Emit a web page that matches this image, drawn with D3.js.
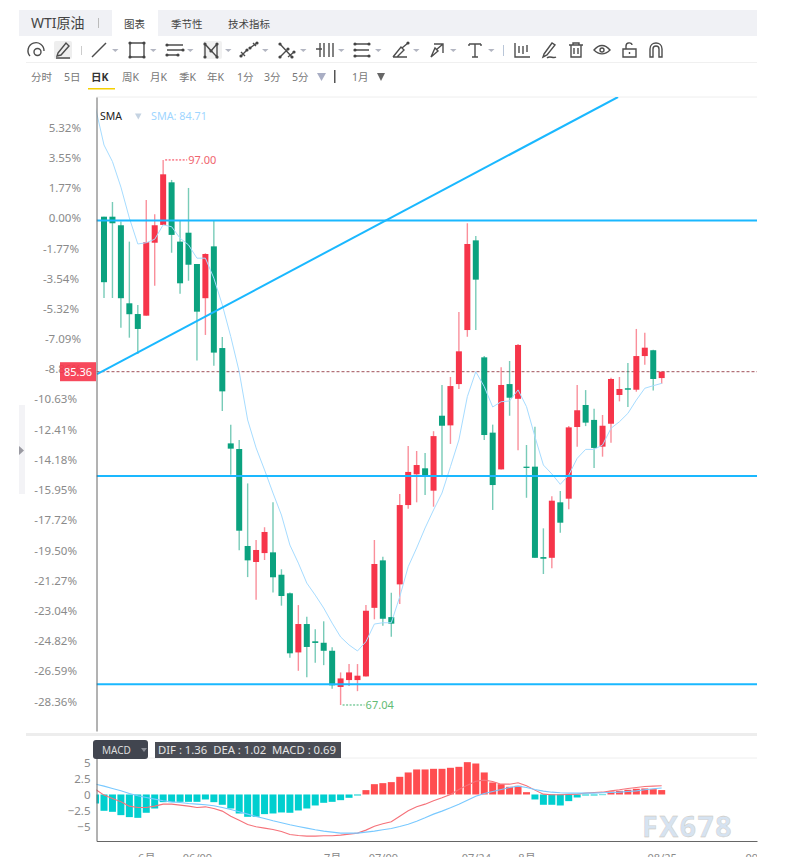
<!DOCTYPE html>
<html>
<head>
<meta charset="utf-8">
<script src="https://cdn.jsdelivr.net/npm/d3@7/dist/d3.min.js"></script>
<style>
  html, body { margin: 0; padding: 0; background: #fff; }
  svg { display: block; }
  text { font-family: "Noto Sans", "Noto Sans CJK SC", sans-serif; }
</style>
</head>
<body>
<svg id="chart" width="788" height="867"></svg>
<script>
// daily candles
const opens = [93.88,93.88,93.41,89.12,88.53,88.44,92.45,93.43,95.77,92.51,93.00,91.28,89.40,92.25,86.66,81.42,81.11,75.78,74.90,75.39,75.43,74.20,73.18,69.93,71.49,70.54,70.46,70.02,68.03,68.41,68.41,68.61,72.38,74.99,71.87,73.67,78.03,79.72,80.05,78.82,82.94,82.41,84.68,87.65,92.58,86.15,82.01,79.99,84.68,83.87,80.14,80.14,75.17,75.13,78.18,78.38,82.32,83.53,82.71,81.24,82.50,84.08,84.45,84.37,86.22,86.54,85.01];
const closes = [90.28,93.52,89.40,88.52,87.71,92.48,93.41,96.21,92.88,90.22,91.24,88.66,91.83,86.41,84.28,81.13,76.62,74.99,75.56,76.55,74.06,73.03,69.88,71.49,70.23,70.45,70.02,68.12,68.50,68.83,68.65,72.22,74.79,71.78,71.51,78.03,79.85,80.23,79.63,81.82,82.39,84.57,86.48,92.38,90.42,81.88,79.13,84.63,83.93,86.83,80.07,75.13,75.08,78.27,77.06,82.30,83.24,82.56,81.17,82.39,84.96,84.41,84.37,86.22,86.68,84.96,85.36];
const highs = [93.88,94.69,93.61,92.51,89.03,94.80,94.02,97.00,95.90,93.66,95.46,91.28,91.87,93.66,87.27,82.45,81.60,79.22,76.11,76.81,78.18,74.50,73.23,72.53,71.89,71.20,71.64,70.21,68.83,69.29,69.29,72.53,76.11,75.19,73.21,78.64,81.28,81.00,80.89,82.09,84.63,85.07,88.64,93.52,92.82,86.22,82.45,85.60,85.95,86.88,81.33,82.34,76.75,78.51,78.80,82.37,84.63,84.35,83.33,82.98,85.03,85.07,85.84,87.71,87.50,86.57,85.36];
const lows = [89.41,89.41,87.78,87.23,86.33,88.44,90.09,93.43,91.90,89.65,90.36,85.97,87.38,85.69,83.20,79.70,75.54,74.07,72.82,75.01,73.23,72.50,69.64,68.92,68.56,69.36,69.23,67.93,67.04,68.08,67.80,68.61,71.75,71.40,70.79,72.59,77.83,78.18,78.58,77.94,79.63,81.39,84.41,87.28,87.65,81.61,77.76,79.99,82.94,81.04,78.43,75.13,74.24,74.55,76.51,77.80,81.24,82.37,80.07,80.69,81.46,83.73,83.42,84.26,85.74,84.32,84.70];

// these start one bar before the first candle, which sits behind the axis
const smaValues = [99.86,97.82,96.91,95.51,93.81,92.38,92.45,92.64,93.43,93.33,92.70,92.33,91.60,91.60,90.50,89.03,87.29,85.36,82.71,81.17,79.96,78.69,77.48,75.83,74.84,73.74,73.08,72.37,71.54,70.78,70.34,70.01,70.52,71.49,71.56,71.56,72.99,74.64,75.67,76.77,77.76,78.69,80.14,81.61,83.99,85.36,84.54,83.42,83.71,83.75,84.36,83.44,81.79,80.23,79.74,79.17,79.68,80.60,81.09,81.09,81.33,82.25,82.61,83.07,83.80,84.45,84.59,84.72];
const macdBars = [-1.41,-2.55,-2.71,-3.23,-3.54,-3.65,-2.86,-2.19,-1.20,-1.20,-1.15,-1.15,-1.15,-0.78,-1.20,-1.61,-2.19,-2.97,-3.49,-3.49,-3.07,-2.97,-2.81,-2.86,-2.50,-2.19,-1.72,-1.30,-1.15,-0.89,-0.52,-0.16,0.68,1.61,1.77,1.93,2.76,3.44,3.91,3.91,4.01,4.01,4.17,4.32,5.05,4.84,3.44,1.88,1.61,1.20,1.35,0.36,-0.78,-1.61,-1.61,-1.72,-1.04,-0.47,-0.16,-0.16,-0.10,0.47,0.57,0.73,0.89,0.94,0.83,0.69];
const difValues = [0.78,-0.10,-0.63,-1.15,-1.82,-2.03,-2.03,-1.82,-1.51,-1.51,-1.67,-1.82,-2.03,-1.93,-2.19,-2.60,-3.39,-4.01,-4.69,-5.05,-5.26,-5.47,-5.78,-6.25,-6.41,-6.51,-6.51,-6.46,-6.46,-6.35,-6.20,-6.04,-5.57,-4.95,-4.58,-4.27,-3.39,-2.55,-1.93,-1.51,-0.99,-0.52,0,0.78,1.46,2.08,2.24,2.03,1.61,1.61,1.82,1.35,0.68,0.05,-0.05,-0.05,0,0.05,0.21,0.31,0.36,0.57,0.73,0.94,1.09,1.25,1.30,1.36];
const deaValues = [1.61,1.30,0.94,0.57,0.16,-0.21,-0.47,-0.73,-0.99,-1.15,-1.25,-1.41,-1.51,-1.61,-1.77,-2.03,-2.34,-2.71,-3.07,-3.44,-3.75,-4.11,-4.43,-4.74,-5.00,-5.26,-5.52,-5.73,-5.89,-6.04,-6.04,-6.04,-5.89,-5.73,-5.52,-5.31,-5.00,-4.64,-4.17,-3.65,-3.07,-2.60,-2.08,-1.51,-0.89,-0.26,0.16,0.47,0.78,1.09,1.30,1.09,0.78,0.52,0.36,0.26,0.21,0.21,0.21,0.21,0.26,0.31,0.36,0.47,0.57,0.73,0.89,1.02];

const pctTicks = [5.32,3.55,1.77,0,-1.77,-3.54,-5.32,-7.09,-8.86,-10.63,-12.41,-14.18,-15.95,-17.72,-19.50,-21.27,-23.04,-24.82,-26.59,-28.36];
const macdTicks = [5,2.5,0,-2.5,-5];
const dateTickIdx = [5,11,27,33,44,50,66,77.6];
const dateTickLabels = ['6月','06/09','7月','07/09','07/24','8月','08/25','09/08'];

// drawn levels and the trend line, in price / bar units
const basePrice = 93.66;
const levels = [93.67, 79.63, 68.18];
const trendBars = [-0.83, 60.83];
const trendPrices = [85.23, 100.46];
const lastPrice = 85.36;

const tabs = ['图表','季节性','技术指标'];
const periods = ['分时','5日','日K','周K','月K','季K','年K','1分','3分','5分'];

const RED = '#f6354a', GREEN = '#0ba27f', BLUE = '#1ab8ff', SMA_BLUE = '#a6dcff';
const MACD_RED = '#ff4d50', MACD_CYAN = '#00cfcf';
const LEFT = 96.5, RIGHT = 757, TOP = 97, BOTTOM = 731, MACD_TOP = 758, MACD_BOTTOM = 841;

const svg = d3.select('#chart');

const defs = svg.append('defs');
defs.append('clipPath').attr('id', 'plotClip').append('rect')
    .attr('x', LEFT).attr('y', TOP).attr('width', RIGHT - LEFT).attr('height', BOTTOM - TOP);
defs.append('clipPath').attr('id', 'macdClip').append('rect')
    .attr('x', LEFT).attr('y', MACD_TOP).attr('width', RIGHT - LEFT).attr('height', MACD_BOTTOM - MACD_TOP);

// scales
const x = d3.scaleLinear().domain([-0.888, 77.28]).range([LEFT, RIGHT]);
const y = d3.scaleLinear().domain([100.46, 65.61]).range([TOP, BOTTOM]);
const pct = d3.scaleLinear()
    .domain(y.domain().map(p => (p / basePrice - 1) * 100))
    .range([TOP, BOTTOM]);
const macdY = d3.scaleLinear().domain([5.70, -7.27]).range([MACD_TOP, MACD_BOTTOM]);

// ---- header ----
const header = svg.append('g');
header.append('rect').attr('x', 19).attr('y', 10).attr('width', 738).attr('height', 26).attr('fill', '#f0f1f5');
header.append('rect').attr('x', 112).attr('y', 10).attr('width', 46).attr('height', 26).attr('fill', '#fff');
header.append('text').attr('x', 31).attr('y', 28).attr('font-size', 14).attr('fill', '#444').text('WTI原油');
header.append('rect').attr('x', 98).attr('y', 18).attr('width', 1).attr('height', 10).attr('fill', '#bbb');

const tabX = [124, 171, 228];
header.selectAll('.tab').data(tabs).join('text')
    .attr('class', 'tab')
    .attr('x', (d, i) => tabX[i]).attr('y', 28)
    .attr('font-size', 10.5).attr('fill', '#444')
    .text(d => d);

// period row
const periodX = [31, 64, 91, 122, 150, 179, 207, 237, 264, 292];
header.selectAll('.period').data(periods).join('text')
    .attr('class', 'period')
    .attr('x', (d, i) => periodX[i]).attr('y', 81)
    .attr('font-size', 10.5)
    .attr('font-weight', d => d === '日K' ? 700 : 400)
    .attr('fill', d => d === '日K' ? '#333' : '#777')
    .text(d => d);
header.append('rect').attr('x', 88).attr('y', 88).attr('width', 27).attr('height', 1.5).attr('fill', '#f5d000');
header.append('path').attr('d', 'M317,73h9l-4.5,8z').attr('fill', '#a9aec4');
header.append('rect').attr('x', 334).attr('y', 70).attr('width', 1.5).attr('height', 13).attr('fill', '#555');
header.append('text').attr('x', 352).attr('y', 81).attr('font-size', 10.5).attr('fill', '#777').text('1月');
header.append('path').attr('d', 'M377,73h8l-4,8z').attr('fill', '#666');

header.append('line').attr('x1', 26).attr('x2', RIGHT).attr('y1', 62.5).attr('y2', 62.5).attr('stroke', '#f0f0f0');
header.append('line').attr('x1', LEFT).attr('x2', RIGHT).attr('y1', TOP).attr('y2', TOP).attr('stroke', '#eeeeee');

// ---- toolbar icons ----
const toolbar = svg.append('g').attr('fill', 'none').attr('stroke', '#4d4d4d').attr('stroke-width', 1.4);
toolbar.append('rect').attr('x', 54).attr('y', 41).attr('width', 18).attr('height', 18).attr('rx', 2).attr('fill', '#eeeeee').attr('stroke', 'none');
toolbar.append('rect').attr('x', 203).attr('y', 41).attr('width', 19).attr('height', 18).attr('rx', 2).attr('fill', '#f1f1f1').attr('stroke', 'none');

const icons = [
  [36, 'M-6,6A8,8 0 1 1 8,1M-2,2a3.5,3.5 0 1 0 7,0a3.5,3.5 0 1 0 -7,0'],
  [63, 'M-5,3L3,-7L6,-4L-2,5L-6,6ZM-7,8H7'],
  [99, 'M-7,7L7,-7'],
  [137, 'M-7,-7H7V7H-7Z'],
  [175, 'M-8,-5H8M-8,0H8M-8,5H3'],
  [211, 'M-6,7L-6,-6L6,7L6,-6M-6,-6L0,1L6,-6'],
  [249, 'M-8,6L-2,0M1,-2L8,-7M-8,2L-4,6M4,-7L7,-4'],
  [287, 'M-7,-6L5,7M-7,7L1,-1M1,7L7,2'],
  [320, 'M0,-7V7'], [324, 'M0,-7V7'], [329, 'M0,-7V7'], [333, 'M0,-7V7M-17,-1H-11'],
  [362, 'M-7,-6H7M-7,0H7M-7,6H7'],
  [400, 'M-7,7H7M-7,7L1,-3L4,0L-3,7M2,-2L8,-7'],
  [437, 'M-6,7L-2,-2L1,1ZM-3,-6H6V3M-1,0L6,-6'],
  [475, 'M-6,-6H6M0,-6V7M-3,7H3M-6,-6V-4M6,-6V-4'],
  [522, 'M-7,-7V7H8M-3,-4V3M1,-4V4M5,-5V2'],
  [549, 'M-5,4L3,-7L6,-5L-2,5L-6,7ZM-2,8C1,5 4,9 7,7'],
  [576, 'M-7,-5H7M-3,-5V-7H3V-5M-5,-5V7H5V-5M-2,-2V4M2,-2V4'],
  [602, 'M-8,0C-3,-6 3,-6 8,0C3,5 -3,5 -8,0ZM-2,0a2,2 0 1 0 4,0a2,2 0 1 0 -4,0'],
  [629, 'M-6,-1H7V7H-6ZM-3,-1V-4C-3,-8 3,-8 3,-5M0.5,2V4'],
  [656, 'M-6,7V-1C-6,-9 6,-9 6,-1V7H3V-1C3,-5 -3,-5 -3,-1V7Z']
];
toolbar.selectAll('.icon').data(icons).join('path')
    .attr('class', 'icon')
    .attr('transform', d => `translate(${d[0]},50)`)
    .attr('d', d => d[1]);

// the anchor dots on the drawing tools
const anchors = [
  [137, [[-7,-7],[7,-7],[-7,7],[7,7]]],
  [175, [[-8,-5],[8,0],[-8,5],[3,5]]],
  [211, [[-6,7],[-6,-6],[6,7],[6,-6],[0,1]]],
  [249, [[-8,6],[8,-7],[-2,0],[1,-2]]],
  [287, [[-7,-6],[5,7],[-7,7],[1,-1],[7,2]]],
  [362, [[-7,-6],[-7,0],[-7,6],[7,-6],[7,6]]],
  [400, [[8,-7]]]
];
svg.append('g').selectAll('g').data(anchors).join('g')
    .attr('transform', d => `translate(${d[0]},50)`)
    .selectAll('circle').data(d => d[1]).join('circle')
    .attr('cx', d => d[0]).attr('cy', d => d[1]).attr('r', 1.6).attr('fill', '#444');

// little carets next to the drawing tools
const caretX = [115, 153, 190, 228, 265, 303, 341, 378, 416, 453, 491];
svg.append('g').selectAll('path').data(caretX).join('path')
    .attr('d', d => `M${d - 3},49h6.5l-3.2,3z`)
    .attr('fill', '#b3b6c2');
svg.append('rect').attr('x', 81).attr('y', 46).attr('width', 1).attr('height', 9).attr('fill', '#ccc');
svg.append('rect').attr('x', 503).attr('y', 45).attr('width', 1).attr('height', 11).attr('fill', '#b9c6d8');

// left collapse handle
svg.append('rect').attr('x', 19).attr('y', 405).attr('width', 6).attr('height', 89).attr('fill', '#f3f3f6');
svg.append('path').attr('d', 'M19,446l5,4.5l-5,4.5z').attr('fill', '#9a9aa2');

// ---- main panel ----
const main = svg.append('g').attr('clip-path', 'url(#plotClip)');

const lastY = y(lastPrice);
main.append('line')
    .attr('x1', LEFT).attr('x2', RIGHT).attr('y1', lastY).attr('y2', lastY)
    .attr('stroke', '#a0525a').attr('stroke-dasharray', '3,2');

const barIdx = d3.range(opens.length);
const candleColor = i => closes[i] >= opens[i] ? RED : GREEN;

main.append('g').selectAll('line').data(barIdx).join('line')
    .attr('x1', i => x(i)).attr('x2', i => x(i))
    .attr('y1', i => y(highs[i])).attr('y2', i => y(lows[i]))
    .attr('stroke', candleColor).attr('stroke-width', 1.4).attr('opacity', 0.55);

main.append('g').selectAll('rect').data(barIdx).join('rect')
    .attr('x', i => x(i) - 3)
    .attr('width', 6)
    .attr('y', i => y(Math.max(opens[i], closes[i])))
    .attr('height', i => Math.max(1.2, Math.abs(y(opens[i]) - y(closes[i]))))
    .attr('fill', candleColor);

const smaLine = d3.line().x((d, i) => x(i - 1)).y(d => y(d));
main.append('path').datum(smaValues)
    .attr('d', smaLine)
    .attr('fill', 'none').attr('stroke', SMA_BLUE).attr('stroke-width', 1);

main.append('g').selectAll('line').data(levels).join('line')
    .attr('x1', LEFT).attr('x2', RIGHT)
    .attr('y1', d => y(d)).attr('y2', d => y(d))
    .attr('stroke', BLUE).attr('stroke-width', 2);

main.append('line')
    .attr('x1', x(trendBars[0])).attr('y1', y(trendPrices[0]))
    .attr('x2', x(trendBars[1])).attr('y2', y(trendPrices[1]))
    .attr('stroke', BLUE).attr('stroke-width', 2);

// percent axis
const pctAxis = svg.append('g')
    .attr('transform', `translate(${LEFT},0)`)
    .call(d3.axisLeft(pct).tickValues(pctTicks).tickSize(0).tickFormat(d => d.toFixed(2) + '%'));
pctAxis.select('.domain').attr('stroke', '#666').attr('stroke-width', 1);
pctAxis.selectAll('text')
    .attr('font-size', 11.5).attr('fill', '#8a8a8a')
    .attr('font-family', '"Noto Sans", sans-serif')
    .attr('dy', '0.1em')
    .attr('x', d => d > -1 || d === -7.09 || d === -8.86 ? -15.5 : d > -10 ? -17.5 : -19.5);

// last price tag, the tick label shows through it in the original
svg.append('rect').attr('x', 60).attr('y', lastY - 9.5).attr('width', 36).attr('height', 19).attr('fill', RED).attr('opacity', 0.9);
svg.append('text').attr('x', 64).attr('y', lastY + 4).attr('font-size', 11).attr('fill', '#fff').text(lastPrice.toFixed(2));

// SMA legend
svg.append('text').attr('x', 100).attr('y', 120).attr('font-size', 10.5).attr('fill', '#222').text('SMA');
svg.append('path').attr('d', 'M135,113.5h6.5l-3.2,6z').attr('fill', '#c5d3e2');
svg.append('text').attr('x', 151).attr('y', 120).attr('font-size', 10.8).attr('fill', '#9fd6ff').text('SMA: 84.71');

// high / low notes
const hiX = x(7), loX = x(28);
svg.append('line').attr('x1', hiX + 2).attr('x2', hiX + 24).attr('y1', y(97)).attr('y2', y(97))
    .attr('stroke', RED).attr('stroke-dasharray', '2,1.5');
svg.append('text').attr('x', hiX + 25).attr('y', y(97) + 4).attr('font-size', 11).attr('fill', '#f0646e').text('97.00');
svg.append('line').attr('x1', loX + 2).attr('x2', loX + 24).attr('y1', y(67.04)).attr('y2', y(67.04))
    .attr('stroke', '#3fb46f').attr('stroke-dasharray', '2,1.5');
svg.append('text').attr('x', loX + 25).attr('y', y(67.04) + 4).attr('font-size', 11).attr('fill', '#62bb74').text('67.04');

// divider between the panels
svg.append('rect').attr('x', 26).attr('y', 733).attr('width', RIGHT - 26).attr('height', 3).attr('fill', '#ededed');

// ---- MACD panel ----
svg.append('line').attr('x1', LEFT).attr('x2', RIGHT).attr('y1', MACD_TOP).attr('y2', MACD_TOP).attr('stroke', '#eeeeee');

const macd = svg.append('g').attr('clip-path', 'url(#macdClip)');
macd.append('g').selectAll('rect').data(macdBars).join('rect')
    .attr('x', (d, i) => x(i - 1) - 3.5)
    .attr('width', 7)
    .attr('y', d => d > 0 ? macdY(d) : macdY(0))
    .attr('height', d => Math.abs(macdY(d) - macdY(0)))
    .attr('fill', d => d > 0 ? MACD_RED : MACD_CYAN);

const macdLine = d3.line().x((d, i) => x(i - 1)).y(d => macdY(d));
macd.append('path').datum(difValues).attr('d', macdLine)
    .attr('fill', 'none').attr('stroke', '#f5727a').attr('stroke-width', 1.1);
macd.append('path').datum(deaValues).attr('d', macdLine)
    .attr('fill', 'none').attr('stroke', '#79c9ff').attr('stroke-width', 1.1);

const macdAxis = svg.append('g')
    .attr('transform', `translate(${LEFT},0)`)
    .call(d3.axisLeft(macdY).tickValues(macdTicks).tickSize(0).tickFormat(d3.format('')));
macdAxis.select('.domain').attr('stroke', '#666');
macdAxis.selectAll('text')
    .attr('font-size', 11.5).attr('fill', '#8a8a8a')
    .attr('font-family', '"Noto Sans", sans-serif')
    .attr('x', -6).attr('dy', '0.36em');

const dateAxis = svg.append('g')
    .attr('transform', `translate(0,${MACD_BOTTOM})`)
    .call(d3.axisBottom(x).tickValues(dateTickIdx).tickSize(0)
        .tickFormat(d => dateTickLabels[dateTickIdx.indexOf(d)]));
dateAxis.select('.domain').attr('stroke', '#666');
dateAxis.selectAll('text')
    .attr('font-size', 11).attr('fill', '#8a8a8a')
    .attr('font-family', '"Noto Sans", "Noto Sans CJK SC", sans-serif')
    .attr('y', 20.5).attr('dy', 0);
// the screenshot cuts these labels off
svg.append('rect').attr('x', 0).attr('y', 857).attr('width', 788).attr('height', 10).attr('fill', '#fff');
svg.append('rect').attr('x', RIGHT).attr('y', 845).attr('width', 31).attr('height', 15).attr('fill', '#fff');

// MACD badge and readout
svg.append('rect').attr('x', 93).attr('y', 740).attr('width', 55).attr('height', 19).attr('rx', 3).attr('fill', '#41454f');
svg.append('text').attr('x', 102).attr('y', 754).attr('font-size', 10).attr('fill', '#ddd').text('MACD');
svg.append('path').attr('d', 'M141,748h6l-3,4z').attr('fill', '#8a8d95');
svg.append('rect').attr('x', 155).attr('y', 742).attr('width', 186).attr('height', 16).attr('fill', '#4a4d55');
svg.append('text').attr('x', 158).attr('y', 754).attr('font-size', 11.3).attr('fill', '#e4e4e4').attr('xml:space', 'preserve')
    .text('DIF : 1.36  DEA : 1.02  MACD : 0.69');

// watermark
svg.append('text').attr('x', 642).attr('y', 837)
    .attr('font-size', 28.5).attr('font-weight', 700).attr('letter-spacing', 1.5)
    .attr('fill', '#d6e3f1').attr('stroke', '#cbbfb0').attr('stroke-width', 0.3)
    .attr('font-family', '"DejaVu Sans", sans-serif')
    .text('FX678');
</script>
</body>
</html>
